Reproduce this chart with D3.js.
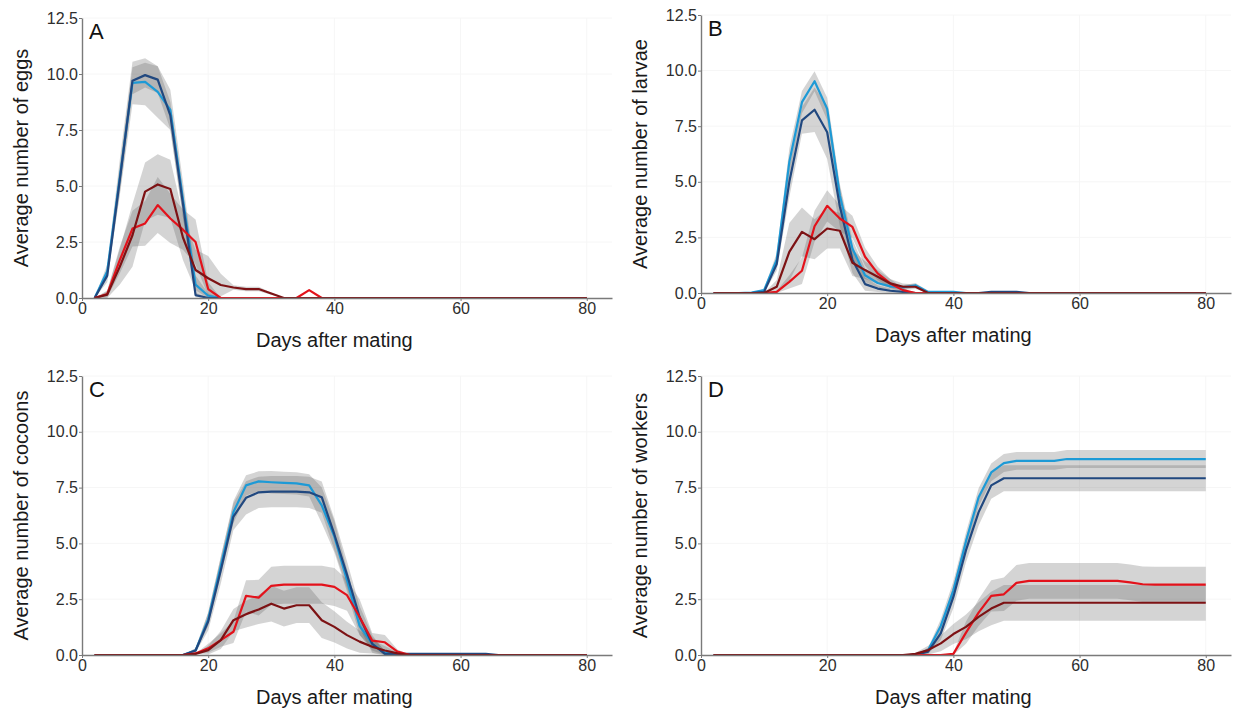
<!DOCTYPE html>
<html>
<head>
<meta charset="utf-8">
<script src="https://cdn.jsdelivr.net/npm/d3@7"></script>
<style>
  html, body { margin: 0; padding: 0; background: #ffffff; }
  svg { display: block; font-family: "Liberation Sans", Arial, sans-serif; }
</style>
</head>
<body>
<svg id="chart" width="1235" height="710"></svg>
<script>
// ---------- data ----------
const days = [2,4,6,8,10,12,14,16,18,20, 22,24,26,28,30,32,34,36,38,40,
              42,44,46,48,50,52,54,56,58,60, 62,64,66,68,70,72,74,76,78,80];
const xTicks = [0, 20, 40, 60, 80];
const yTicks = [0, 2.5, 5, 7.5, 10, 12.5];
const panelLetters = ["A", "B", "C", "D"];
const yTitles = ["Average number of eggs", "Average number of larvae",
                 "Average number of cocoons", "Average number of workers"];
const xTitle = "Days after mating";
const seriesNames = ["lightBlue", "darkBlue", "red", "darkRed"];

// Panel A: eggs
const eggsLightBlue = [0,1.2,5.4,9.6,9.65,9.2,8.4,4.4,0.6,0.1, 0,0,0,0,0,0,0,0,0,0, 0,0,0,0,0,0,0,0,0,0, 0,0,0,0,0,0,0,0,0,0];
const eggsDarkBlue  = [0,1.0,5.3,9.7,9.95,9.75,8.15,4.2,0.13,0, 0,0,0,0,0,0,0,0,0,0, 0,0,0,0,0,0,0,0,0,0, 0,0,0,0,0,0,0,0,0,0];
const eggsRed       = [0,0.18,1.7,3.1,3.33,4.15,3.55,3.05,2.5,0.4, 0,0,0,0,0,0,0,0.35,0,0, 0,0,0,0,0,0,0,0,0,0, 0,0,0,0,0,0,0,0,0,0];
const eggsDarkRed   = [0,0.15,1.4,2.8,4.75,5.07,4.87,2.7,1.25,0.88, 0.58,0.47,0.4,0.4,0.2,0,0,0,0,0, 0,0,0,0,0,0,0,0,0,0, 0,0,0,0,0,0,0,0,0,0];
const eggsLightBlueSe = [0,0.3,0.8,0.95,1.05,1.15,0.9,0.8,0.4,0.1, 0,0,0,0,0,0,0,0,0,0, 0,0,0,0,0,0,0,0,0,0, 0,0,0,0,0,0,0,0,0,0];
const eggsDarkBlueSe  = [0,0.3,0.6,0.6,0.55,0.6,0.6,0.6,0.1,0, 0,0,0,0,0,0,0,0,0,0, 0,0,0,0,0,0,0,0,0,0, 0,0,0,0,0,0,0,0,0,0];
const eggsRedSe       = [0,0.15,0.6,0.8,1.0,1.25,1.1,0.9,1.0,0.3, 0,0,0,0,0,0,0,0,0,0, 0,0,0,0,0,0,0,0,0,0, 0,0,0,0,0,0,0,0,0,0];
const eggsDarkRedSe   = [0,0.15,0.8,1.4,1.3,1.35,1.3,1.0,0.9,1.0, 0.5,0.1,0.1,0.1,0.05,0,0,0,0,0, 0,0,0,0,0,0,0,0,0,0, 0,0,0,0,0,0,0,0,0,0];

// Panel B: larvae
const larvaeLightBlue = [0,0,0,0.02,0.13,1.5,5.9,8.58,9.52,8.28, 4.4,2.0,0.8,0.45,0.3,0.25,0.35,0.05,0.05,0.05, 0,0,0,0,0,0,0,0,0,0, 0,0,0,0,0,0,0,0,0,0];
const larvaeDarkBlue  = [0,0,0,0,0.05,1.3,5.0,7.76,8.24,7.23, 3.9,1.5,0.4,0.2,0.1,0.05,0,0,0,0, 0,0,0.05,0.05,0.05,0,0,0,0,0, 0,0,0,0,0,0,0,0,0,0];
const larvaeRed       = [0,0,0,0,0,0.05,0.5,1.0,3.0,3.92, 3.35,2.97,1.63,0.88,0.43,0.13,0,0,0,0, 0,0,0,0,0,0,0,0,0,0, 0,0,0,0,0,0,0,0,0,0];
const larvaeDarkRed   = [0,0,0,0,0,0.28,1.85,2.75,2.42,2.9, 2.8,1.36,1.03,0.73,0.43,0.28,0.28,0,0,0, 0,0,0,0,0,0,0,0,0,0, 0,0,0,0,0,0,0,0,0,0];
const larvaeLightBlueSe = [0,0,0,0,0.05,0.3,0.6,0.5,0.45,0.5, 0.5,0.4,0.3,0.2,0.15,0.1,0.1,0.05,0,0, 0,0,0,0,0,0,0,0,0,0, 0,0,0,0,0,0,0,0,0,0];
const larvaeDarkBlueSe  = [0,0,0,0,0.05,0.3,0.7,0.6,1.0,1.2, 0.9,0.6,0.3,0.15,0.1,0.05,0,0,0,0, 0,0,0,0,0,0,0,0,0,0, 0,0,0,0,0,0,0,0,0,0];
const larvaeRedSe       = [0,0,0,0,0,0.05,0.3,0.6,0.7,0.7, 0.6,0.5,0.4,0.3,0.2,0.1,0,0,0,0, 0,0,0,0,0,0,0,0,0,0, 0,0,0,0,0,0,0,0,0,0];
const larvaeDarkRedSe   = [0,0,0,0,0,0.3,1.3,1.1,0.9,0.9, 0.8,0.6,0.4,0.3,0.2,0.15,0.1,0,0,0, 0,0,0,0,0,0,0,0,0,0, 0,0,0,0,0,0,0,0,0,0];

// Panel C: cocoons
const cocoonsLightBlue = [0,0,0,0,0,0,0,0,0.2,1.6, 4.0,6.4,7.6,7.78,7.74,7.71,7.69,7.6,6.7,5.3, 3.35,1.3,0.5,0.1,0.05,0,0,0,0,0, 0,0,0,0,0,0,0,0,0,0];
const cocoonsDarkBlue  = [0,0,0,0,0,0,0,0,0.2,1.5, 3.8,6.2,7.04,7.29,7.32,7.32,7.32,7.29,7.07,5.4, 3.6,1.7,0.5,0.05,0.05,0.05,0.05,0.05,0.05,0.05, 0.05,0.05,0,0,0,0,0,0,0,0];
const cocoonsRed       = [0,0,0,0,0,0,0,0,0.07,0.3, 0.67,1.04,2.65,2.57,3.1,3.15,3.15,3.15,3.15,3.05, 2.68,1.7,0.64,0.57,0.15,0,0,0,0,0, 0,0,0,0,0,0,0,0,0,0];
const cocoonsDarkRed   = [0,0,0,0,0,0,0,0,0.05,0.22, 0.67,1.56,1.83,2.04,2.3,2.08,2.23,2.23,1.56,1.26, 0.89,0.6,0.37,0.2,0.07,0,0,0,0,0, 0,0,0,0,0,0,0,0,0,0];
const cocoonsLightBlueSe = [0,0,0,0,0,0,0,0,0.1,0.3, 0.4,0.5,0.45,0.45,0.5,0.5,0.5,0.5,0.8,0.7, 0.5,0.4,0.3,0.1,0,0,0,0,0,0, 0,0,0,0,0,0,0,0,0,0];
const cocoonsDarkBlueSe  = [0,0,0,0,0,0,0,0,0.1,0.4, 0.6,0.6,0.75,0.7,0.7,0.7,0.7,0.7,0.7,0.7, 0.6,0.5,0.4,0.1,0,0,0,0,0,0, 0,0,0,0,0,0,0,0,0,0];
const cocoonsRedSe       = [0,0,0,0,0,0,0,0,0,0.2, 0.3,0.5,0.7,0.8,0.85,0.85,0.85,0.85,0.85,0.85, 0.7,0.8,0.35,0.33,0.1,0,0,0,0,0, 0,0,0,0,0,0,0,0,0,0];
const cocoonsDarkRedSe   = [0,0,0,0,0,0,0,0,0,0.2, 0.4,0.5,0.6,0.65,0.8,0.8,0.8,0.8,0.8,0.7, 0.6,0.5,0.3,0.2,0.05,0,0,0,0,0, 0,0,0,0,0,0,0,0,0,0];

// Panel D: workers
const workersLightBlue = [0,0,0,0,0,0,0,0,0,0, 0,0,0,0,0,0,0,0.22,1.3,2.9, 5.1,7.07,8.18,8.6,8.7,8.7,8.7,8.7,8.78,8.78, 8.78,8.78,8.78,8.78,8.78,8.78,8.78,8.78,8.78,8.78];
const workersDarkBlue  = [0,0,0,0,0,0,0,0,0,0, 0,0,0,0,0,0,0,0.15,0.97,2.6, 4.7,6.4,7.6,7.92,7.92,7.92,7.92,7.92,7.92,7.92, 7.92,7.92,7.92,7.92,7.92,7.92,7.92,7.92,7.92,7.92];
const workersRed       = [0,0,0,0,0,0,0,0,0,0, 0,0,0,0,0,0,0,0,0,0.05, 1.0,1.9,2.65,2.72,3.23,3.32,3.32,3.32,3.32,3.32, 3.32,3.32,3.32,3.25,3.17,3.15,3.15,3.15,3.15,3.15];
const workersDarkRed   = [0,0,0,0,0,0,0,0,0,0, 0,0,0,0,0,0,0.05,0.22,0.52,0.94, 1.26,1.71,2.08,2.34,2.34,2.34,2.34,2.34,2.34,2.34, 2.34,2.34,2.34,2.34,2.34,2.34,2.34,2.34,2.34,2.34];
const workersLightBlueSe = [0,0,0,0,0,0,0,0,0,0, 0,0,0,0,0,0,0,0.1,0.3,0.4, 0.4,0.4,0.4,0.4,0.4,0.4,0.4,0.4,0.4,0.4, 0.4,0.4,0.4,0.4,0.4,0.4,0.4,0.4,0.4,0.4];
const workersDarkBlueSe  = [0,0,0,0,0,0,0,0,0,0, 0,0,0,0,0,0,0,0.1,0.3,0.5, 0.55,0.6,0.6,0.58,0.58,0.58,0.58,0.58,0.58,0.58, 0.58,0.58,0.58,0.58,0.58,0.58,0.58,0.58,0.58,0.58];
const workersRedSe       = [0,0,0,0,0,0,0,0,0,0, 0,0,0,0,0,0,0,0,0,0.05, 0.5,0.6,0.7,0.75,0.8,0.8,0.8,0.8,0.8,0.8, 0.8,0.8,0.8,0.8,0.8,0.8,0.8,0.8,0.8,0.8];
const workersDarkRedSe   = [0,0,0,0,0,0,0,0,0,0, 0,0,0,0,0,0,0.05,0.2,0.35,0.45, 0.55,0.65,0.75,0.8,0.8,0.8,0.8,0.8,0.8,0.8, 0.8,0.8,0.8,0.8,0.8,0.8,0.8,0.8,0.8,0.8];

// ---------- styling ----------
const colors = { lightBlue: "#1d9ad6", darkBlue: "#21487f", red: "#e3121b", darkRed: "#7d1214" };

const panels = [
  { means: [eggsLightBlue, eggsDarkBlue, eggsRed, eggsDarkRed],
    ses: [eggsLightBlueSe, eggsDarkBlueSe, eggsRedSe, eggsDarkRedSe],
    x0: 82, x1: 612, yTop: 18, yBot: 298 },
  { means: [larvaeLightBlue, larvaeDarkBlue, larvaeRed, larvaeDarkRed],
    ses: [larvaeLightBlueSe, larvaeDarkBlueSe, larvaeRedSe, larvaeDarkRedSe],
    x0: 701, x1: 1231, yTop: 15, yBot: 293 },
  { means: [cocoonsLightBlue, cocoonsDarkBlue, cocoonsRed, cocoonsDarkRed],
    ses: [cocoonsLightBlueSe, cocoonsDarkBlueSe, cocoonsRedSe, cocoonsDarkRedSe],
    x0: 82, x1: 612, yTop: 376, yBot: 655 },
  { means: [workersLightBlue, workersDarkBlue, workersRed, workersDarkRed],
    ses: [workersLightBlueSe, workersDarkBlueSe, workersRedSe, workersDarkRedSe],
    x0: 701, x1: 1231, yTop: 376, yBot: 655 }
];

const svg = d3.select("#chart");

panels.forEach((p, pi) => {
  const x = d3.scaleLinear().domain([0, 84]).range([p.x0, p.x1]);
  const y = d3.scaleLinear().domain([0, 12.5]).range([p.yBot, p.yTop]);
  const g = svg.append("g");

  // very faint grid
  g.append("g").selectAll("line").data(xTicks.slice(1)).join("line")
    .attr("x1", d => x(d)).attr("x2", d => x(d))
    .attr("y1", p.yTop).attr("y2", p.yBot)
    .attr("stroke", "#f6f6f6").attr("stroke-width", 1);
  g.append("g").selectAll("line").data(yTicks.slice(1)).join("line")
    .attr("x1", p.x0).attr("x2", p.x1)
    .attr("y1", d => y(d)).attr("y2", d => y(d))
    .attr("stroke", "#f6f6f6").attr("stroke-width", 1);

  // ribbons
  p.means.forEach((m, si) => {
    const rows = days.map((d, i) => ({ d, m: m[i], s: p.ses[si][i] }));
    const area = d3.area()
      .x(r => x(r.d))
      .y0(r => y(Math.max(0, r.m - r.s)))
      .y1(r => y(r.m + r.s));
    g.append("path").datum(rows)
      .attr("d", area)
      .attr("fill", "#5a5a5a")
      .attr("fill-opacity", 0.26);
  });

  // lines
  p.means.forEach((m, si) => {
    const rows = days.map((d, i) => ({ d, m: m[i] }));
    const line = d3.line().x(r => x(r.d)).y(r => y(r.m));
    g.append("path").datum(rows)
      .attr("d", line)
      .attr("fill", "none")
      .attr("stroke", colors[seriesNames[si]])
      .attr("stroke-width", 2.2)
      .attr("stroke-linejoin", "round");
  });

  // axes
  const xAxis = d3.axisBottom(x).tickValues(xTicks).tickFormat(d3.format("d"))
    .tickSize(3).tickPadding(2).tickSizeOuter(0);
  const yAxis = d3.axisLeft(y).tickValues(yTicks).tickFormat(d3.format(".1f"))
    .tickSize(3).tickPadding(1).tickSizeOuter(0);

  const gx = g.append("g").attr("transform", `translate(0,${p.yBot})`).call(xAxis);
  const gy = g.append("g").attr("transform", `translate(${p.x0},0)`).call(yAxis);
  [gx, gy].forEach(ax => {
    ax.select(".domain").attr("stroke", "#7a7a7a").attr("stroke-width", 1.4);
    ax.selectAll(".tick line").attr("stroke", "#7a7a7a").attr("stroke-width", 1);
    ax.selectAll(".tick text").attr("fill", "#2e2e2e").attr("font-size", 16)
      .attr("font-family", "'Liberation Sans', Arial, sans-serif");
  });

  // axis titles
  g.append("text")
    .attr("x", (x(0) + x(80)) / 2).attr("y", p.yBot + 49)
    .attr("text-anchor", "middle").attr("font-size", 20).attr("fill", "#1a1a1a")
    .text(xTitle);
  g.append("text")
    .attr("transform", `translate(${p.x0 - 54},${(p.yTop + p.yBot) / 2}) rotate(-90)`)
    .attr("text-anchor", "middle").attr("font-size", 20).attr("fill", "#1a1a1a")
    .text(yTitles[pi]);

  // panel letter
  g.append("text")
    .attr("x", p.x0 + 7).attr("y", p.yTop + 21)
    .attr("font-size", 22).attr("fill", "#111")
    .text(panelLetters[pi]);
});
</script>
</body>
</html>
